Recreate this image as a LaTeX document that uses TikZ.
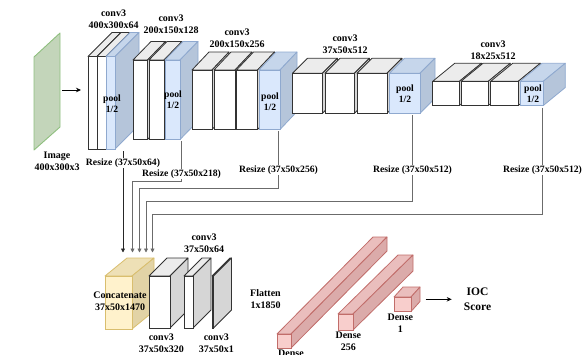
\documentclass[tikz,border=0pt]{standalone}
\usepackage{fontspec}
\setmainfont{Liberation Serif}
\usetikzlibrary{arrows.meta}

% colour sets: F front, T top, S side, D outline
\definecolor{whtF}{HTML}{FFFFFF}\definecolor{whtT}{HTML}{ECECEC}\definecolor{whtS}{HTML}{D6D6D6}\definecolor{whtD}{HTML}{333333}
\definecolor{bluF}{HTML}{DAE8FC}\definecolor{bluT}{HTML}{C6D6EB}\definecolor{bluS}{HTML}{B5C5DA}\definecolor{bluD}{HTML}{8FA9CF}
\definecolor{ylwF}{HTML}{FFF2CC}\definecolor{ylwT}{HTML}{EEE0B6}\definecolor{ylwS}{HTML}{E2D3A6}\definecolor{ylwD}{HTML}{D9BE6E}
\definecolor{pnkF}{HTML}{F8CECC}\definecolor{pnkT}{HTML}{EABEBD}\definecolor{pnkS}{HTML}{DBABAA}\definecolor{pnkD}{HTML}{C16D6A}
\definecolor{grnF}{HTML}{C3D5BA}\definecolor{grnD}{HTML}{8FBF7F}
\definecolor{linkgray}{HTML}{6B6B6B}

% cuboid: name, x, y (top-left of front face), width, height, depth dx, depth dy, colour set
\newcommand\cubeblock[8]{%
  \filldraw[fill=#8T, draw=#8D, line width=0.8pt, line join=round]
    (#2,#3) -- ++(#6,-#7) -- ++(#4,0) -- ++(-#6,#7) -- cycle;
  \filldraw[fill=#8S, draw=#8D, line width=0.8pt, line join=round]
    (#2+#4,#3) -- ++(#6,-#7) -- ++(0,#5) -- ++(-#6,#7) -- cycle;
  \node[draw=#8D, fill=#8F, line width=0.8pt, minimum width=#4pt, minimum height=#5pt,
        inner sep=0pt, outer sep=0pt, anchor=north west] (#1) at (#2,#3) {};%
}

\tikzset{
  lbl/.style={font=\bfseries\fontsize{10}{12}\selectfont, align=center, inner sep=0pt},
  poollbl/.style={font=\bfseries\fontsize{9.6}{11}\selectfont, align=center, inner sep=0pt},
  rlbl/.style={font=\bfseries\fontsize{9.7}{11}\selectfont, fill=white, inner sep=1pt},
  link/.style={draw=linkgray, line width=0.8pt, -{Triangle[length=4pt,width=4pt]}},
  linkdark/.style={link, draw=black!85},
  flow/.style={draw=black, line width=0.8pt, -{Stealth[length=5pt,width=4.5pt]}},
}

\begin{document}
\begin{tikzpicture}[x=1pt,y=-1pt]
\useasboundingbox (0,0) rectangle (585,354);

% input image plane
\filldraw[fill=grnF, draw=grnD, line width=0.9pt, line join=round]
  (34,57) -- (60,33) -- (60,127) -- (34,150) -- cycle;
\node[lbl] (imglbl) at (57,161) {Image\\400x300x3};
\coordinate (imgout) at (62,90);
\coordinate (netin) at (81,90);
\draw[flow] (imgout) -- (netin);

% block 1
\cubeblock{b11}{88}{56.5}{9}{92.5}{24}{24}{wht}
\cubeblock{b12}{97}{56.5}{9}{92.5}{24}{24}{wht}
\cubeblock{p1}{106}{56.5}{9}{92.5}{24}{24}{blu}
\node[lbl] (g1) at (113.5,19) {conv3\\400x300x64};
\node[poollbl] at (112,103.5) {pool\\1/2};

% block 2
\cubeblock{b21}{133}{60}{14.5}{79.5}{18}{18.5}{wht}
\cubeblock{b22}{149}{60}{15}{79.5}{18}{18.5}{wht}
\cubeblock{p2}{165}{60}{15}{79.5}{18}{18.5}{blu}
\node[lbl] (g2) at (171,24.5) {conv3\\200x150x128};
\node[poollbl] at (173,99.5) {pool\\1/2};

% block 3
\cubeblock{b31}{192}{70}{20}{59.5}{17}{18}{wht}
\cubeblock{b32}{214}{70}{21}{59.5}{17}{18}{wht}
\cubeblock{b33}{236.5}{70}{21}{59.5}{17}{18}{wht}
\cubeblock{p3}{259}{70}{21}{59.5}{17}{18}{blu}
\node[lbl] (g3) at (237,38) {conv3\\200x150x256};
\node[poollbl] at (270,101.5) {pool\\1/2};

% block 4
\cubeblock{b41}{292.5}{73.3}{30}{40}{15}{15}{wht}
\cubeblock{b42}{325}{73.3}{29.5}{40}{15}{15}{wht}
\cubeblock{b43}{357}{73.3}{30}{40}{15}{15}{wht}
\cubeblock{p4}{389.5}{73.3}{30.5}{40}{15}{15}{blu}
\node[lbl] (g4) at (345,44) {conv3\\37x50x512};
\node[poollbl] at (405,93.7) {pool\\1/2};

% block 5
\cubeblock{b51}{432.7}{81.3}{26.7}{24.2}{22}{18}{wht}
\cubeblock{b52}{461}{81.3}{27.3}{24.2}{22}{18}{wht}
\cubeblock{b53}{490.7}{81.3}{27.6}{24.2}{22}{18}{wht}
\cubeblock{p5}{520}{81.3}{23.3}{24.2}{22}{18}{blu}
\node[lbl] (g5) at (493,50.5) {conv3\\18x25x512};
\node[poollbl] at (533,93.7) {pool\\1/2};

% head
\cubeblock{cc}{105}{276}{27}{53}{22}{18}{ylw}
\cubeblock{h1}{149}{276}{21}{52}{18}{18}{wht}
\cubeblock{h2}{184}{276}{9}{52}{18}{18}{wht}
\cubeblock{h3}{212}{276}{1.5}{52}{18}{18}{wht}
\node[lbl] at (120,301.7) {Concatenate\\37x50x1470};
\node[lbl] at (204,243) {conv3\\37x50x64};
\node[lbl] at (161.3,343) {conv3\\37x50x320};
\node[lbl] at (216.3,343) {conv3\\37x50x1};

% resize connectors
\coordinate (t1) at (123,151);
\coordinate (t2) at (181.5,141);
\coordinate (t3) at (278.5,131);
\coordinate (t4) at (412.5,115);
\coordinate (t5) at (542.5,107.5);
\coordinate (e1) at (123,252.5);
\coordinate (e2) at (132.5,252.5);
\coordinate (e3) at (139.5,252.5);
\coordinate (e4) at (146,252.5);
\coordinate (e5) at (152.5,252.5);
\draw[linkdark] (t1) -- (e1);
\draw[link] (t2) -- ++(0,40.5) -| (e2);
\draw[link] (t3) -- ++(0,57.3) -| (e3);
\draw[link] (t4) -- ++(0,86.7) -| (e4);
\draw[link] (t5) -- ++(0,106.5) -| (e5);
\node[rlbl] at (123,163) {Resize (37x50x64)};
\node[rlbl] at (181.5,174) {Resize (37x50x218)};
\node[rlbl] at (278.5,170) {Resize (37x50x256)};
\node[rlbl] at (412.5,170) {Resize (37x50x512)};
\node[rlbl] at (542.5,170) {Resize (37x50x512)};

% dense layers
\node[lbl] at (265.5,299) {Flatten\\1x1850};
\cubeblock{d1}{277}{334}{14}{14}{96}{97}{pnk}
\cubeblock{d2}{338}{314}{15}{16}{60}{59}{pnk}
\cubeblock{d3}{394}{297}{17}{14.5}{9}{10}{pnk}
\node[lbl] at (291,353.5) {Dense};
\node[lbl] at (348.3,341) {Dense\\256};
\node[lbl] at (400.3,323) {Dense\\1};
\coordinate (dout) at (425.7,299.3);
\node[font=\bfseries\fontsize{11.5}{15}\selectfont, align=center, inner sep=0pt] (ioc) at (477.5,299) {IOC\\Score};
\coordinate (iocin) at (451.7,299.3);
\draw[flow] (dout) -- (iocin);
\end{tikzpicture}
\end{document}
